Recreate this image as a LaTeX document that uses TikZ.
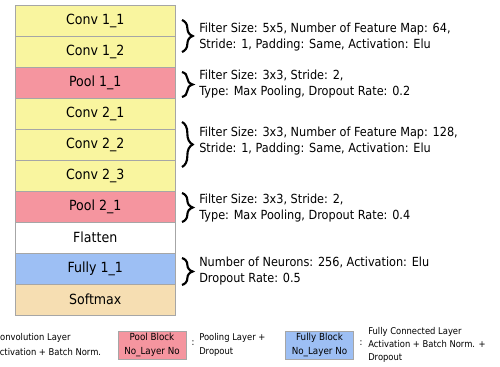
\documentclass[tikz,border=0pt]{standalone}
\usepackage{fontspec}
\setmainfont{DejaVu Sans}[FakeStretch=0.9]
\usetikzlibrary{decorations.pathreplacing}
\definecolor{convy}{HTML}{F9F59F}
\definecolor{poolp}{HTML}{F5959F}
\definecolor{fullb}{HTML}{9DBFF4}
\definecolor{softw}{HTML}{F6DEB2}
\definecolor{edgeg}{HTML}{A6A6A6}
\tikzset{
  row/.style={draw=edgeg, line width=0.6pt, minimum width=120.4pt, minimum height=23.25pt,
    inner sep=0pt, outer sep=0pt, font=\fontsize{10.5}{12}\selectfont},
  desc/.style={anchor=west, align=left, inner sep=0pt, font=\fontsize{9.4}{12}\selectfont},
  brc/.style={decorate, decoration={brace, amplitude=8pt}, line width=1.6pt},
  leg/.style={anchor=west, align=left, inner sep=0pt, font=\fontsize{7}{11}\selectfont},
  legbox/.style={draw=edgeg, line width=0.6pt, minimum width=51pt, minimum height=21pt,
    inner sep=0pt, align=center, font=\fontsize{7.3}{10.5}\selectfont},
  colon/.style={inner sep=0pt, font=\fontsize{7}{9}\selectfont}
}
\begin{document}
\begin{tikzpicture}[x=0.75pt,y=-0.75pt]
\useasboundingbox (0,0) rectangle (500,367);
% main column
\node[row, fill=convy] (c11) at (95.25,20.5) {Conv 1\_1};
\node[row, fill=convy] (c12) at (95.25,51.5) {Conv 1\_2};
\node[row, fill=poolp] (p11) at (95.25,82.5) {Pool 1\_1};
\node[row, fill=convy] (c21) at (95.25,113.5) {Conv 2\_1};
\node[row, fill=convy] (c22) at (95.25,144.5) {Conv 2\_2};
\node[row, fill=convy] (c23) at (95.25,175.5) {Conv 2\_3};
\node[row, fill=poolp] (p21) at (95.25,206.5) {Pool 2\_1};
\node[row, fill=white] (fl) at (95.25,237.5) {Flatten};
\node[row, fill=fullb] (f11) at (95.25,268.5) {Fully 1\_1};
\node[row, fill=softw] (sm) at (95.25,299.5) {Softmax};
% braces
\draw[brc] (182,20) -- (182,52);
\draw[brc] (182,72) -- (182,97);
\draw[brc] (182,122) -- (182,167);
\draw[brc] (182,193) -- (182,222);
\draw[brc] (182,258) -- (182,285);
% descriptions
\node[desc] (d1) at (199,37) {Filter Size: 5x5, Number of Feature Map: 64,\\Stride: 1, Padding: Same, Activation: Elu};
\node[desc] (d2) at (199,84) {Filter Size: 3x3, Stride: 2,\\Type: Max Pooling, Dropout Rate: 0.2};
\node[desc] (d3) at (199,141.5) {Filter Size: 3x3, Number of Feature Map: 128,\\Stride: 1, Padding: Same, Activation: Elu};
\node[desc] (d4) at (199,208) {Filter Size: 3x3, Stride: 2,\\Type: Max Pooling, Dropout Rate: 0.4};
\node[desc] (d5) at (199,271.5) {Number of Neurons: 256, Activation: Elu\\Dropout Rate: 0.5};
% legend
\node[leg] (lconv) at (-6,344.5) {Convolution Layer\\Activation + Batch Norm.};
\node[legbox, fill=poolp] (lpool) at (152,345) {Pool Block\\No\_Layer No};
\node[colon] (cpool) at (193,343) {:};
\node[leg] (tpool) at (199,345) {Pooling Layer +\\Dropout};
\node[legbox, fill=fullb] (lfull) at (319.5,345) {Fully Block\\No\_Layer No};
\node[colon] (cfull) at (361,343) {:};
\node[leg, font=\fontsize{7}{9.75}\selectfont] (tfull) at (368,345) {Fully Connected Layer\\Activation + Batch Norm. +\\Dropout};
\end{tikzpicture}
\end{document}
